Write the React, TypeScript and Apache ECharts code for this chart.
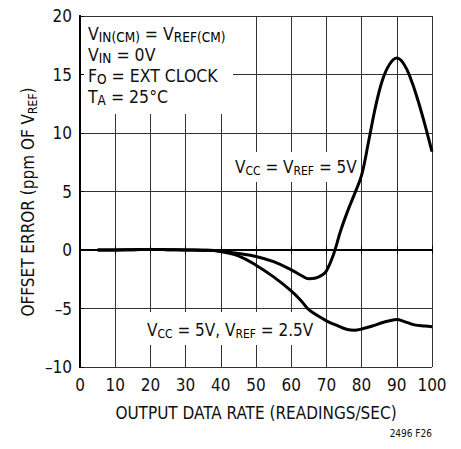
import React, { useEffect, useRef } from "react";
import * as echarts from "echarts";

const rate1 = [5, 10, 15, 20, 25, 30, 35, 40, 45, 50, 55, 60, 63, 65, 67, 69, 70, 72, 74, 76, 78, 80, 82, 84, 86, 88, 90, 92, 94, 96, 98, 100];
const err1 = [0, 0, 0.02, 0.05, 0.03, 0, -0.02, -0.1, -0.3, -0.55, -1.0, -1.7, -2.2, -2.45, -2.4, -2.1, -1.8, -0.4, 1.6, 3.3, 4.8, 6.4, 9.3, 12.3, 14.6, 15.9, 16.4, 15.9, 14.6, 12.8, 10.7, 8.4];
const rate2 = [5, 10, 15, 20, 25, 30, 35, 40, 45, 50, 55, 60, 63, 65, 68, 70, 73, 76, 78, 80, 83, 86, 88, 90, 92, 95, 98, 100];
const err2 = [0, 0, 0.02, 0.05, 0.03, 0, -0.02, -0.12, -0.5, -1.3, -2.3, -3.5, -4.4, -5.1, -5.7, -6.05, -6.45, -6.8, -6.85, -6.75, -6.5, -6.2, -6.05, -5.95, -6.1, -6.4, -6.5, -6.55];

const FONT = '"Liberation Sans Narrow", "DejaVu Sans Condensed", "Arial Narrow", sans-serif';

export default function App() {
  const ref = useRef<HTMLDivElement>(null);
  useEffect(() => {
    if (!ref.current) return;
    const chart = echarts.init(ref.current, undefined, { renderer: "svg" });
    const rich = {
      m: { fontSize: 17, fontFamily: FONT, lineHeight: 21, fill: "#111" },
      s: { fontSize: 12, fontFamily: FONT, lineHeight: 21, verticalAlign: "bottom", padding: [6, 0, 0, 0] },
    };
    const richBig = {
      m: { fontSize: 17.5, fontFamily: FONT, lineHeight: 21, fill: "#111" },
      s: { fontSize: 13.5, fontFamily: FONT, lineHeight: 21, verticalAlign: "bottom", padding: [6, 0, 0, 0] },
    };
    const grid = { left: 80, top: 16, width: 352, height: 351 };
    chart.setOption({
      animation: false,
      backgroundColor: "#fff",
      grid,
      xAxis: [
        {
          type: "value", min: 0, max: 100, interval: 10, position: "bottom", z: 5,
          axisLine: { lineStyle: { color: "#000", width: 2 } },
          axisTick: { show: true, inside: true, length: 4, lineStyle: { color: "#000" } },
          axisLabel: { fontFamily: FONT, fontSize: 17, color: "#111", margin: 9 },
          splitLine: { show: false },
          name: "OUTPUT DATA RATE (READINGS/SEC)",
          nameLocation: "middle",
          nameGap: 37,
          nameTextStyle: { fontFamily: FONT, fontSize: 17, color: "#111", verticalAlign: "top" },
        },
        {
          type: "value", min: 0, max: 100, interval: 10, position: "top", z: 5,
          axisLine: { show: true, lineStyle: { color: "#000", width: 2 } },
          axisTick: { show: true, inside: true, length: 4, lineStyle: { color: "#000" } },
          axisLabel: { show: false },
          splitLine: { show: false },
        },
        {
          type: "value", min: 0, max: 100, interval: 10, position: "bottom", z: 0,
          axisLine: { show: false }, axisTick: { show: false }, axisLabel: { show: false },
          splitLine: { show: true, lineStyle: { color: "#333", width: 1 } },
        },
      ],
      yAxis: [
        {
          type: "value", min: -10, max: 20, interval: 5, position: "left", z: 5,
          axisLine: { show: true, lineStyle: { color: "#000", width: 2 } },
          axisTick: { show: true, inside: true, length: 4, lineStyle: { color: "#000" } },
          axisLabel: {
            fontFamily: FONT, fontSize: 17, color: "#111", margin: 8,
            formatter: (v: number) => String(v).replace("-", "\u2013"),
          },
          splitLine: { show: false },
        },
        {
          type: "value", min: -10, max: 20, interval: 5, position: "right", z: 5,
          axisLine: { show: true, lineStyle: { color: "#000", width: 2 } },
          axisTick: { show: false }, axisLabel: { show: false }, splitLine: { show: false },
        },
        {
          type: "value", min: -10, max: 20, interval: 5, position: "left", z: 0,
          axisLine: { show: false }, axisTick: { show: false }, axisLabel: { show: false },
          splitLine: { show: true, lineStyle: { color: "#333", width: 1 } },
        },
      ],
      graphic: [
        {
          type: "text", z: 3, x: 28, y: 202, rotation: Math.PI / 2,
          style: {
            text: "{m|OFFSET ERROR (ppm OF V}{s|REF}{m|)}",
            rich, align: "center", verticalAlign: "middle",
          },
        },
        { type: "rect", z: 2, shape: { x: 81, y: 17, width: 152, height: 97 }, style: { fill: "#fff" } },
        {
          type: "text", z: 3, x: 88, y: 23,
          style: {
            text: "{m|V}{s|IN(CM)}{m| = V}{s|REF(CM)}\n{m|V}{s|IN}{m| = 0V}\n{m|F}{s|O}{m| = EXT CLOCK}\n{m|T}{s|A}{m| = 25°C}",
            rich: richBig,
          },
        },
        { type: "rect", z: 2, shape: { x: 230, y: 152, width: 128, height: 30 }, style: { fill: "#fff" } },
        {
          type: "text", z: 3, x: 235, y: 156,
          style: { text: "{m|V}{s|CC}{m| = V}{s|REF}{m| = 5V}", rich },
        },
        { type: "rect", z: 2, shape: { x: 141, y: 312, width: 175, height: 33 }, style: { fill: "#fff" } },
        {
          type: "text", z: 3, x: 147, y: 319,
          style: { text: "{m|V}{s|CC}{m| = 5V, V}{s|REF}{m| = 2.5V}", rich },
        },
        {
          type: "text", z: 3, x: 432, y: 428,
          style: { text: "2496 F26", fontFamily: FONT, fontSize: 10, fill: "#111", align: "right" },
        },
      ],
      series: [
        {
          type: "line", xAxisIndex: 0, yAxisIndex: 0, z: 4, smooth: 0.4, symbol: "none",
          lineStyle: { color: "#000", width: 3 },
          data: rate1.map((x, i) => [x, err1[i]]),
        },
        {
          type: "line", xAxisIndex: 0, yAxisIndex: 0, z: 4, smooth: 0.4, symbol: "none",
          lineStyle: { color: "#000", width: 3 },
          data: rate2.map((x, i) => [x, err2[i]]),
        },
      ],
    });
    return () => chart.dispose();
  }, []);
  return (
    <div
      ref={ref}
      style={{ position: "fixed", left: 0, top: 0, width: 461, height: 449 }}
    />
  );
}
